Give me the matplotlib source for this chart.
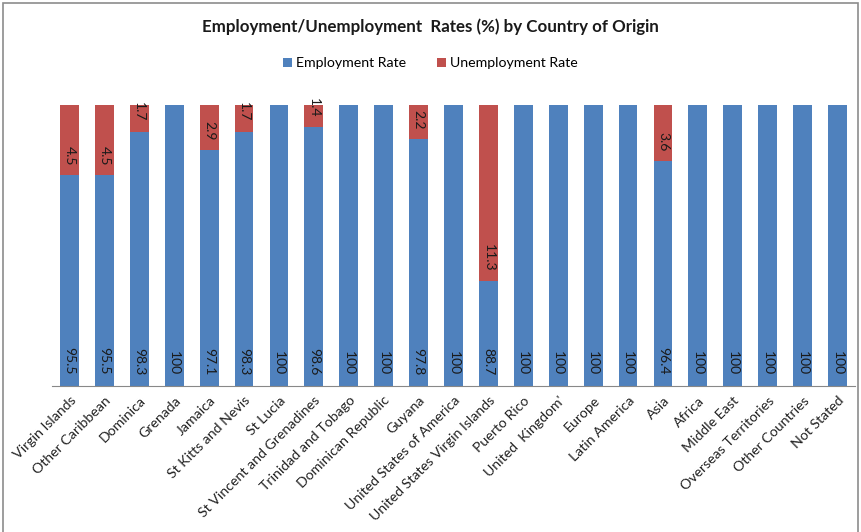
import matplotlib.pyplot as plt
from matplotlib.patches import Rectangle

# Taxas por país de origem (%)
paises = ["Virgin Islands", "Other Caribbean", "Dominica", "Grenada", "Jamaica",
          "St Kitts and Nevis", "St Lucia", "St Vincent and Grenadines",
          "Trinidad and Tobago", "Dominican Republic", "Guyana",
          "United States of America", "United States Virgin Islands", "Puerto Rico",
          "United  Kingdom'", "Europe", "Latin America", "Asia", "Africa",
          "Middle East", "Overseas Territories", "Other Countries", "Not Stated"]
emprego = [95.5, 95.5, 98.3, 100, 97.1, 98.3, 100, 98.6, 100, 100, 97.8, 100,
           88.7, 100, 100, 100, 100, 96.4, 100, 100, 100, 100, 100]
desemprego = [4.5, 4.5, 1.7, 0, 2.9, 1.7, 0, 1.4, 0, 0, 2.2, 0,
              11.3, 0, 0, 0, 0, 3.6, 0, 0, 0, 0, 0]

AZUL = "#4F81BD"
VERMELHO = "#C0504D"

plt.rcParams["font.family"] = ["Lato", "DejaVu Sans"]

fig = plt.figure(figsize=(8.61, 5.32), dpi=100)
ax = fig.add_axes([52 / 861, 1 - 386 / 532, 803 / 861, 281 / 532])

x = list(range(len(paises)))
b1 = ax.bar(x, emprego, width=0.54, bottom=0, color=AZUL, label="Employment Rate")
b2 = ax.bar(x, desemprego, width=0.54, bottom=emprego, color=VERMELHO,
            label="Unemployment Rate")

ax.set_ylim(82, 100)
ax.set_xlim(-0.5, len(paises) - 0.5)

# rótulos de valor, verticais, junto à base de cada segmento
for i in x:
    ax.annotate(f"{emprego[i]:g}", (i, 82), xytext=(0, 8), textcoords="offset points",
                rotation=270, ha="center", va="bottom", fontsize=10, color="#1a1a1a")
    if desemprego[i] > 0:
        ax.annotate(f"{desemprego[i]:g}", (i, emprego[i]), xytext=(0, 7),
                    textcoords="offset points", rotation=270, ha="center",
                    va="bottom", fontsize=10, color="#1a1a1a")

for lado in ["top", "right", "left"]:
    ax.spines[lado].set_visible(False)
ax.spines["bottom"].set_color("#888888")
ax.set_yticks([])
ax.set_xticks(x)
ax.set_xticklabels(paises, rotation=45, ha="right", rotation_mode="anchor",
                   fontsize=10.2, color="#222222")
ax.tick_params(axis="x", length=0, pad=6)

fig.text(0.5, 1 - 27 / 532, "Employment/Unemployment  Rates (%) by Country of Origin",
         ha="center", va="center", fontsize=12.2, fontweight="bold", color="#1a1a1a")
fig.legend(handles=[b1, b2], loc="center", bbox_to_anchor=(0.5, 1 - 63 / 532),
           ncol=2, frameon=False, fontsize=10.2, handlelength=0.6, handleheight=0.6,
           handletextpad=0.3, columnspacing=2.2)

# moldura cinza da área do gráfico
fig.patches.append(Rectangle((2.5 / 861, -0.05), 855.5 / 861, 1.05 - 2.5 / 532,
                             transform=fig.transFigure, fill=False,
                             edgecolor="#8c8c8c", linewidth=1.2))

fig.savefig("out.png", dpi=100)
